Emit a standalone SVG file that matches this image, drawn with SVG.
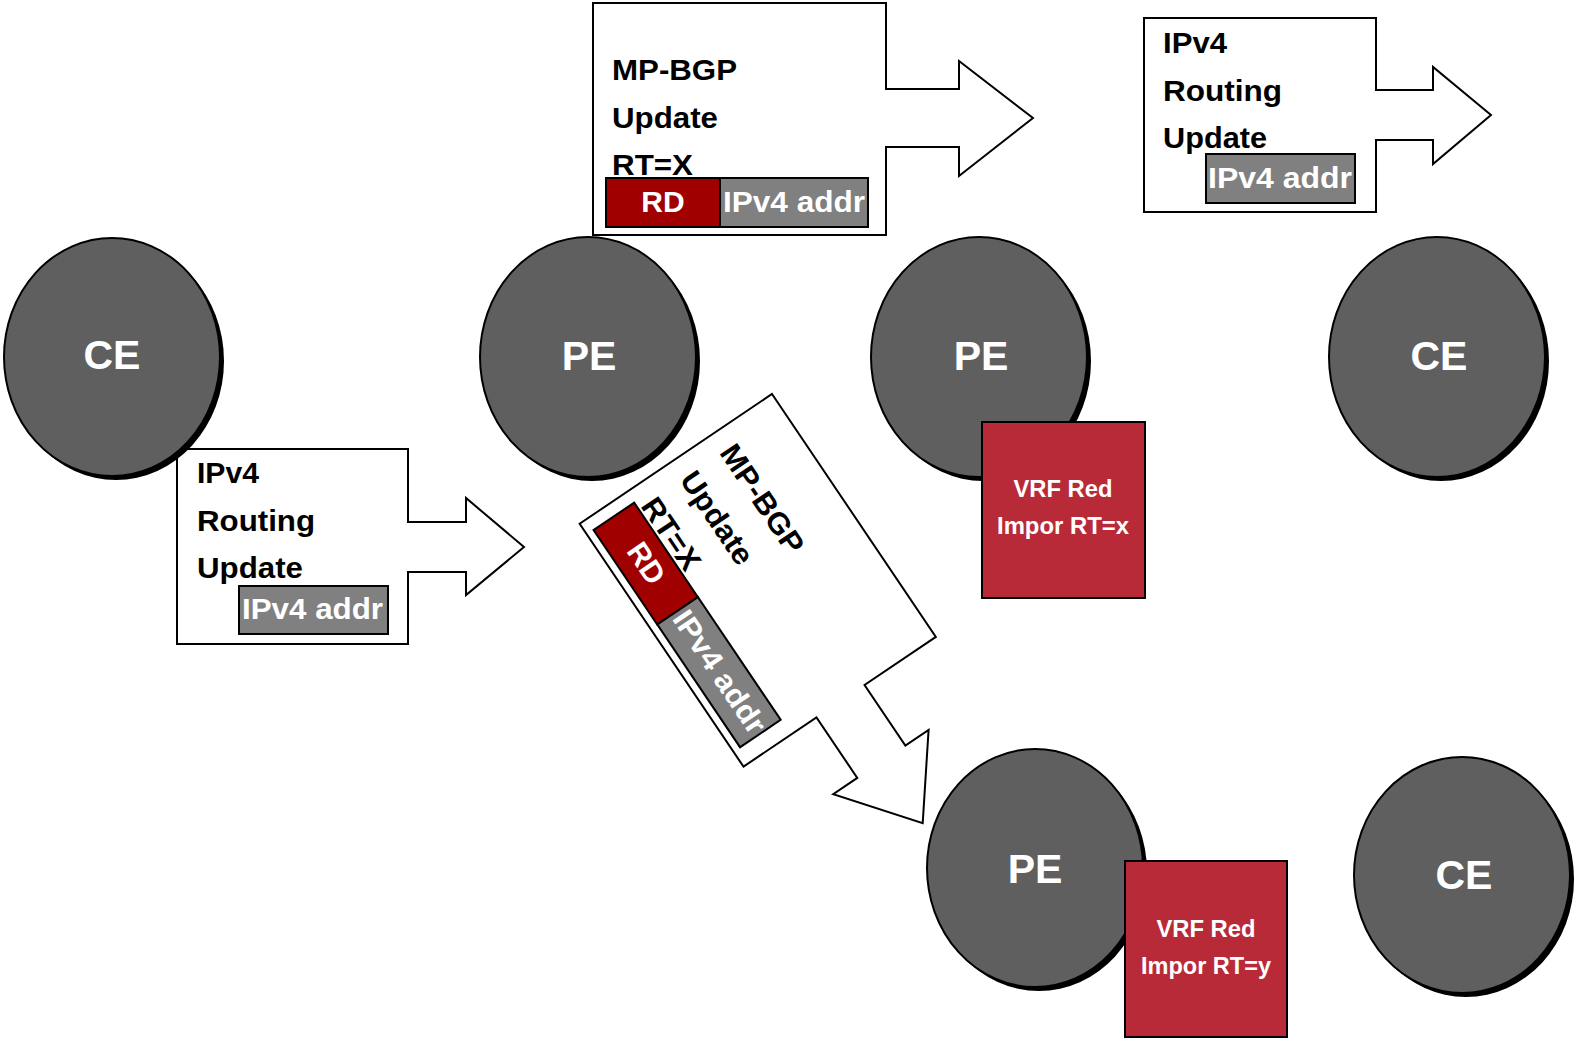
<svg xmlns="http://www.w3.org/2000/svg" width="1576" height="1038" viewBox="0 0 1576 1038">
<style>
.box{fill:#ffffff;stroke:#000000;stroke-width:2;stroke-linejoin:miter}
.lbl{font-family:"Liberation Sans",Arial,sans-serif;font-weight:bold;font-size:30px;fill:#000000}
.wl{font-family:"Liberation Sans",Arial,sans-serif;font-weight:bold;font-size:30px;fill:#ffffff}
.rd{fill:#A00000;stroke:#000000;stroke-width:2}
.gr{fill:#808080;stroke:#000000;stroke-width:2}
.node{fill:#5F5F5F;stroke:#000000;stroke-width:2}
.shadow{fill:#000000}
.nl{font-family:"Liberation Sans",Arial,sans-serif;font-weight:bold;font-size:41px;fill:#ffffff;text-anchor:middle}
.vrf{fill:#B82A38;stroke:#000000;stroke-width:2}
.vl{font-family:"Liberation Sans",Arial,sans-serif;font-weight:bold;font-size:23px;fill:#ffffff;text-anchor:middle}
</style>
<defs>
<g id="mpbgp">
<polygon class="box" points="593,3 886,3 886,89 959,89 959,61 1033,118 959,176 959,147 886,147 886,235 593,235"/>
<text class="lbl" x="612" y="80" textLength="125" lengthAdjust="spacingAndGlyphs">MP-BGP</text>
<text class="lbl" x="612" y="128" textLength="106" lengthAdjust="spacingAndGlyphs">Update</text>
<text class="lbl" x="612" y="175" textLength="81" lengthAdjust="spacingAndGlyphs">RT=X</text>
<rect class="rd" x="606" y="178" width="114" height="49"/>
<text class="wl" x="663" y="212" text-anchor="middle">RD</text>
<rect class="gr" x="720" y="178" width="148" height="49"/>
<text class="wl" x="723" y="212" textLength="142" lengthAdjust="spacingAndGlyphs">IPv4 addr</text>
</g>
</defs>
<g id="connectors">
<g id="update-mpbgp-top"><use href="#mpbgp"/></g>
<g id="update-mpbgp-rotated"><use href="#mpbgp" transform="translate(772,394) rotate(56) translate(-593,-3)"/></g>
<g id="update-ipv4-top">
<polygon class="box" points="1144,18 1376,18 1376,90 1433,90 1433,67 1491,115 1433,164 1433,140 1376,140 1376,212 1144,212"/>
<text class="lbl" x="1163" y="53" textLength="64" lengthAdjust="spacingAndGlyphs">IPv4</text>
<text class="lbl" x="1163" y="101" textLength="119" lengthAdjust="spacingAndGlyphs">Routing</text>
<text class="lbl" x="1163" y="148" textLength="104" lengthAdjust="spacingAndGlyphs">Update</text>
<rect class="gr" x="1206" y="154" width="149" height="49"/>
<text class="wl" x="1208" y="188" textLength="144" lengthAdjust="spacingAndGlyphs">IPv4 addr</text>
</g>
<g id="update-ipv4-bottom">
<polygon class="box" points="177,449 408,449 408,522 466,522 466,498 524,547 466,595 466,572 408,572 408,644 177,644"/>
<text class="lbl" x="197" y="483" textLength="62" lengthAdjust="spacingAndGlyphs">IPv4</text>
<text class="lbl" x="197" y="531" textLength="118" lengthAdjust="spacingAndGlyphs">Routing</text>
<text class="lbl" x="197" y="578" textLength="106" lengthAdjust="spacingAndGlyphs">Update</text>
<rect class="gr" x="239" y="586" width="149" height="48"/>
<text class="wl" x="242" y="619" textLength="141" lengthAdjust="spacingAndGlyphs">IPv4 addr</text>
</g>
</g>
<g id="ce1">
<ellipse class="shadow" cx="116" cy="361" rx="108" ry="119"/>
<ellipse class="node" cx="112" cy="357" rx="108" ry="119"/>
<text class="nl" x="112" y="369">CE</text>
</g>
<g id="pe1">
<ellipse class="shadow" cx="592" cy="361" rx="108" ry="120"/>
<ellipse class="node" cx="588" cy="357" rx="108" ry="120"/>
<text class="nl" x="589" y="370">PE</text>
</g>
<g id="pe2">
<ellipse class="shadow" cx="983" cy="361" rx="108" ry="120"/>
<ellipse class="node" cx="979" cy="357" rx="108" ry="120"/>
<text class="nl" x="981" y="370">PE</text>
</g>
<g id="ce2">
<ellipse class="shadow" cx="1441" cy="361" rx="108" ry="120"/>
<ellipse class="node" cx="1437" cy="357" rx="108" ry="120"/>
<text class="nl" x="1439" y="370">CE</text>
</g>
<g id="pe3">
<ellipse class="shadow" cx="1039" cy="872" rx="108" ry="119"/>
<ellipse class="node" cx="1035" cy="868" rx="108" ry="119"/>
<text class="nl" x="1035" y="883">PE</text>
</g>
<g id="ce3">
<ellipse class="shadow" cx="1466" cy="879" rx="108" ry="118"/>
<ellipse class="node" cx="1462" cy="875" rx="108" ry="118"/>
<text class="nl" x="1464" y="889">CE</text>
</g>
<g id="vrf1">
<rect class="vrf" x="982" y="422" width="163" height="176"/>
<text class="vl" x="1063" y="497" textLength="99" lengthAdjust="spacingAndGlyphs">VRF Red</text>
<text class="vl" x="1063" y="534" textLength="132" lengthAdjust="spacingAndGlyphs">Impor RT=x</text>
</g>
<g id="vrf2">
<rect class="vrf" x="1125" y="861" width="162" height="176"/>
<text class="vl" x="1206" y="937" textLength="99" lengthAdjust="spacingAndGlyphs">VRF Red</text>
<text class="vl" x="1206" y="974" textLength="130" lengthAdjust="spacingAndGlyphs">Impor RT=y</text>
</g>
</svg>
